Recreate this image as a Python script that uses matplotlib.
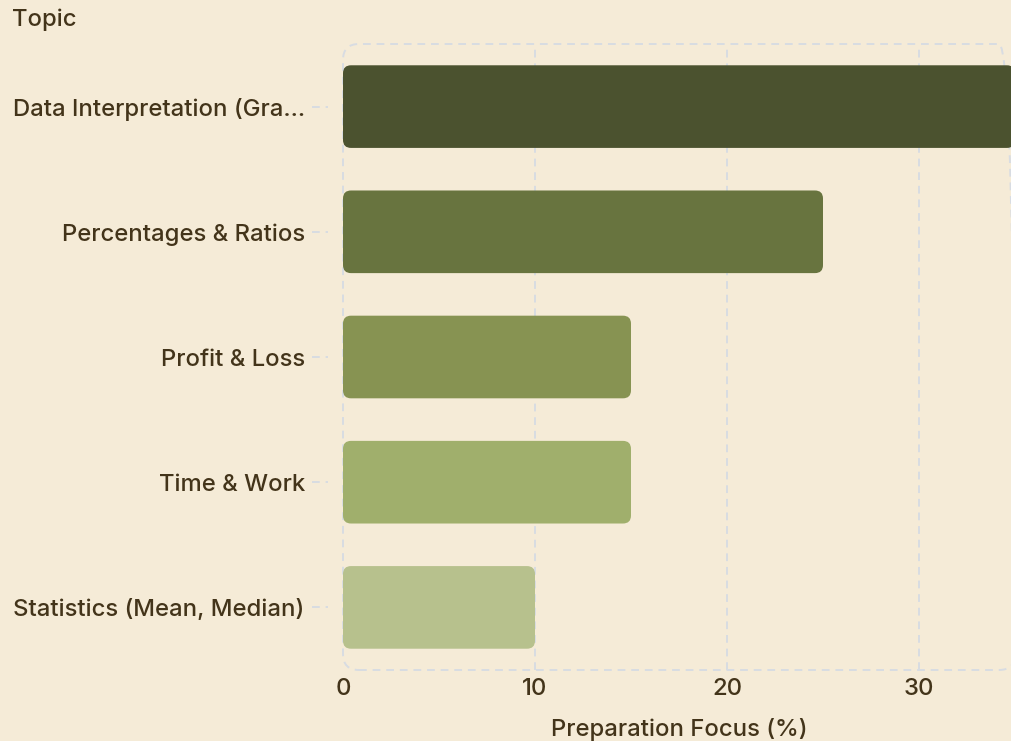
import matplotlib
matplotlib.use("Agg")
import matplotlib.pyplot as plt
from matplotlib.patches import FancyBboxPatch
from matplotlib.lines import Line2D
import matplotlib.transforms as mtransforms

topics = ["Data Interpretation (Gra...", "Percentages & Ratios", "Profit & Loss",
          "Time & Work", "Statistics (Mean, Median)"]
focus = [35, 25, 15, 15, 10]
colors = ["#4B522F", "#68743F", "#879352", "#A0AF6C", "#B7C18D"]
xticks = [0, 10, 20, 30]

BG = "#F5EBD7"
TXT = "#43341A"
GRID = "#D8DCE2"
FS = 17.2
FW = 500

plt.rcParams['font.family'] = ['Inter', 'DejaVu Sans']

W, H = 1012, 741
fig = plt.figure(figsize=(W / 100, H / 100), dpi=100, facecolor=BG)
left, right, top, bottom = 343, 1015, 44, 670
ax = fig.add_axes([left / W, 1 - bottom / H, (right - left) / W, (bottom - top) / H])
ax.set_facecolor(BG)

ypos = list(range(len(topics)))
bars = ax.barh(ypos, focus, height=0.66, color="none", edgecolor="none")
ax.set_xlim(0, 35)
ax.set_ylim(len(topics) - 0.5, -0.5)

# vertical dashed grid
for xt in xticks[1:]:
    ax.axvline(xt, color=GRID, lw=1.4, ls=(0, (4, 3)), zorder=0.5)

# rounded bars
px_per_x = (right - left) / 35.0
px_per_y = (bottom - top) / len(topics)
aspect = px_per_x / px_per_y
rad = 8 / px_per_x
for b, c in zip(bars, colors):
    x0, y0 = b.get_x(), b.get_y()
    w, h = b.get_width(), b.get_height()
    p = FancyBboxPatch((x0, y0), w, h, boxstyle=f"round,pad=0,rounding_size={rad}",
                       mutation_aspect=aspect, facecolor=c, edgecolor="none", zorder=2)
    ax.add_patch(p)

# rounded dashed frame
aw = right - left
ah = bottom - top
frame = FancyBboxPatch((0, 0), 1, 1, boxstyle=f"round,pad=0,rounding_size={16/aw}",
                       mutation_aspect=aw / ah, transform=ax.transAxes, facecolor="none",
                       edgecolor=GRID, lw=1.4, ls=(0, (4, 3)), clip_on=False, zorder=1)
ax.add_patch(frame)

for s in ax.spines.values():
    s.set_visible(False)

ax.set_yticks(ypos)
ax.set_yticklabels(topics, fontsize=FS, color=TXT, fontweight=FW)
ax.tick_params(axis='y', length=0, pad=27.5)
ax.set_xticks(xticks)
ax.set_xticklabels([str(v) for v in xticks], fontsize=FS, color=TXT, fontweight=FW)
ax.tick_params(axis='x', length=0, pad=6)

# dashed y tick marks
trans = mtransforms.blended_transform_factory(ax.transAxes, ax.transData)
for y in ypos:
    ax.add_line(Line2D([-31 / aw, -15 / aw], [y, y], transform=trans, color=GRID,
                       lw=1.4, ls=(0, (4, 3)), clip_on=False))

ax.set_xlabel("Preparation Focus (%)", fontsize=FS, color=TXT, fontweight=FW, labelpad=13)
fig.text(12 / W, 1 - 20 / H, "Topic", fontsize=FS, color=TXT, fontweight=FW,
         ha="left", va="center")

fig.savefig("out.png", dpi=100, facecolor=BG)
